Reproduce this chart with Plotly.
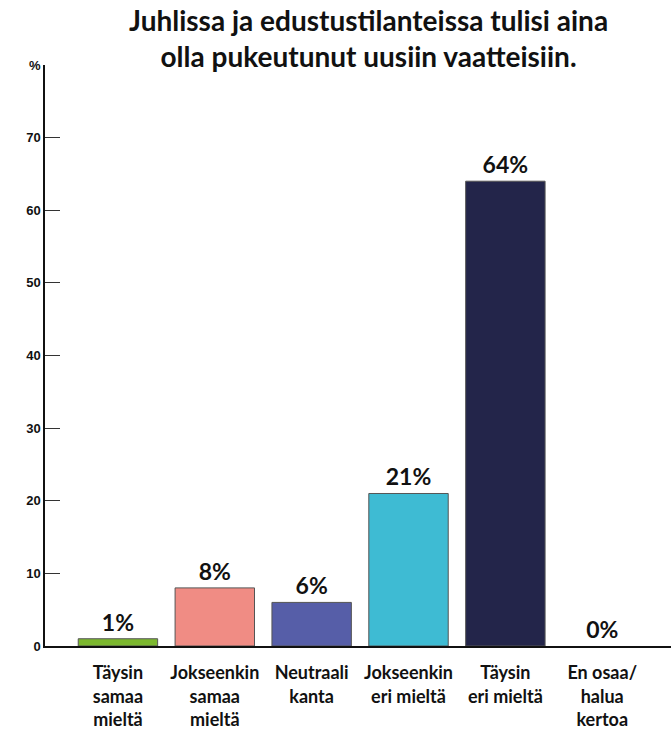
import plotly.graph_objects as go

categories = ["Täysin<br>samaa<br>mieltä", "Jokseenkin<br>samaa<br>mieltä", "Neutraali<br>kanta",
              "Jokseenkin<br>eri mieltä", "Täysin<br>eri mieltä", "En osaa/<br>halua<br>kertoa"]
values = [1, 8, 6, 21, 64, 0]
colors = ["#7cb82f", "#f08c84", "#565ea8", "#3ebbd3", "#23254a", "#ffffff"]
y_tickvals = [0, 10, 20, 30, 40, 50, 60, 70, 80]
y_ticktext = ["0", "10", "20", "30", "40", "50", "60", "70", "%"]
title_text = "Juhlissa ja edustustilanteissa tulisi aina<br>olla pukeutunut uusiin vaatteisiin."

hand_font = "Lato"

fig = go.Figure(go.Bar(
    x=list(range(len(categories))),
    y=values,
    marker=dict(color=colors, line=dict(color="#555555", width=[1, 1, 1, 1, 1, 0])),
    width=0.82,
    text=[f"<b>{v}%</b>" for v in values],
    textposition="outside",
    textfont=dict(family=hand_font, size=23, color="#111111"),
    cliponaxis=False,
))

fig.add_annotation(
    text="<b>" + title_text + "</b>",
    xref="paper", yref="paper", x=0.516, y=1.046,
    xanchor="center", yanchor="middle", showarrow=False,
    font=dict(family=hand_font, size=28, color="#111111"),
)

fig.update_layout(
    width=671, height=730,
    margin=dict(l=45, r=0, t=65, b=84),
    plot_bgcolor="white", paper_bgcolor="white",
    showlegend=False,
    xaxis=dict(
        range=[-0.753, 5.71],
        tickvals=list(range(len(categories))),
        ticktext=[f"<b>{c}</b>" for c in categories],
        tickfont=dict(family=hand_font, size=18, color="#111111"),
        ticklabelstandoff=10,
        showline=True, linecolor="#111111", linewidth=1.5,
        showgrid=False, zeroline=False, ticks="",
    ),
    yaxis=dict(
        range=[0, 80],
        tickvals=y_tickvals,
        ticktext=[f"<b>{t}</b>" for t in y_ticktext],
        tickfont=dict(family="Liberation Sans", size=13, color="#111111"),
        showline=True, linecolor="#111111", linewidth=1.5,
        ticks="inside", ticklen=15, tickcolor="#333333", tickwidth=1,
        showgrid=False, zeroline=False,
    ),
)

fig.write_html("out.html", config={"displayModeBar": False},
               post_script="document.body.style.margin='0';")
